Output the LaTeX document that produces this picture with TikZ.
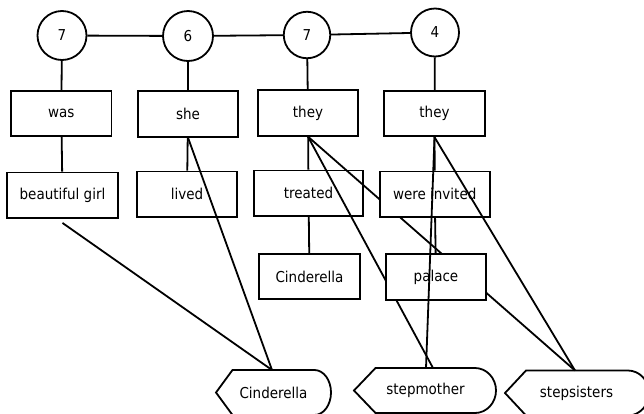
\documentclass[tikz,border=0pt]{standalone}
\usepackage{fontspec}
\setmainfont{DejaVu Sans Condensed}
\usetikzlibrary{backgrounds}
\begin{document}
\begin{tikzpicture}[x=1pt,y=-1pt,
  every node/.style={font=\fontsize{15}{18}\selectfont, inner sep=0pt},
  num/.style={circle, draw, line width=1.8pt, fill=white, minimum size=49pt},
  word/.style={rectangle, draw, line width=1.8pt, fill=white, minimum width=100.5pt, minimum height=45.5pt},
  link/.style={line width=1.8pt},
  disp/.style={draw, line width=1.8pt, fill=white, line join=miter}]
\useasboundingbox (0,0) rectangle (644,413);

% circles
\node[num] (c1) at (62,35.5) {7};
\node[num, minimum size=50pt] (c2) at (188,36) {6};
\node[num, minimum size=46.5pt] (c3) at (307,35) {7};
\node[num, minimum size=48pt] (c4) at (435,32.5) {4};

% first boxes
\node[word] (was) at (61.3,113.5) {was};
\node[word] (she) at (188,114) {she};
\node[word] (they1) at (308,113) {they};
\node[word] (they2) at (434.5,113.5) {they};
\node[word, minimum width=110.5pt] (bg) at (62.5,195.3) {beautiful girl};
\node[word] (lived) at (187,194.2) {lived};
\node[word, minimum width=109.5pt] (treated) at (308.5,193.3) {treated};
\node[word] (cbox) at (309.5,276.5) {Cinderella};

% display shapes
\draw[disp] (216,392.5) -- (232.5,370) -- (314.5,370)
  .. controls (323.6,370) and (331,380.1) .. (331,392.5)
  .. controls (331,404.9) and (323.6,415) .. (314.5,415) -- (232.5,415) -- cycle;
\node (cH) at (273.5,392.5) {Cinderella};
\draw[disp] (354,390.5) -- (375.5,368) -- (475,368)
  .. controls (486.6,368) and (496,378.1) .. (496,390.5)
  .. controls (496,402.9) and (486.6,413) .. (475,413) -- (375.5,413) -- cycle;
\node (smH) at (425.5,390.5) {stepmother};
\draw[disp] (505,393) -- (526,370.5) -- (628,370.5)
  .. controls (639.6,370.5) and (649,380.6) .. (649,393)
  .. controls (649,405.4) and (639.6,415.5) .. (628,415.5) -- (526,415.5) -- cycle;
\node (ssH) at (576.5,393) {stepsisters};

\coordinate (cHtop) at (272,370);
\coordinate (smtopA) at (433,368);
\coordinate (smtopB) at (426,368);
\coordinate (sstop) at (575,370.5);

% edges over the first boxes
\draw[link] ([yshift=-4pt]bg.south) -- (cHtop);
\draw[link] (she.south) -- (cHtop);
\draw[link] (they1.south) -- (smtopA);
\draw[link] (they1.south) -- (sstop);

% boxes that hide those edges
\node[word, minimum width=110pt] (invited) at (434.7,194.3) {were invited};
\node[word] (palace) at (436,277) {palace};

% edges on top
\draw[link] (they2.south) -- (smtopB);
\draw[link] (they2.south) -- (sstop);

\begin{pgfonlayer}{background}
\draw[link] (c1) -- (c2);
\draw[link] (c2) -- (c3);
\draw[link] (c3) -- (c4);
\draw[link] (c1) -- (was);
\draw[link] (c2) -- (she);
\draw[link] (c3) -- (they1);
\draw[link] (c4) -- (they2);
\draw[link] (was) -- (bg);
\draw[link] (she) -- (lived);
\draw[link] (they1) -- (treated);
\draw[link] (treated) -- (cbox);
\draw[link] (they2) -- (invited);
\draw[link] (invited) -- (palace);
\end{pgfonlayer}
\end{tikzpicture}
\end{document}
